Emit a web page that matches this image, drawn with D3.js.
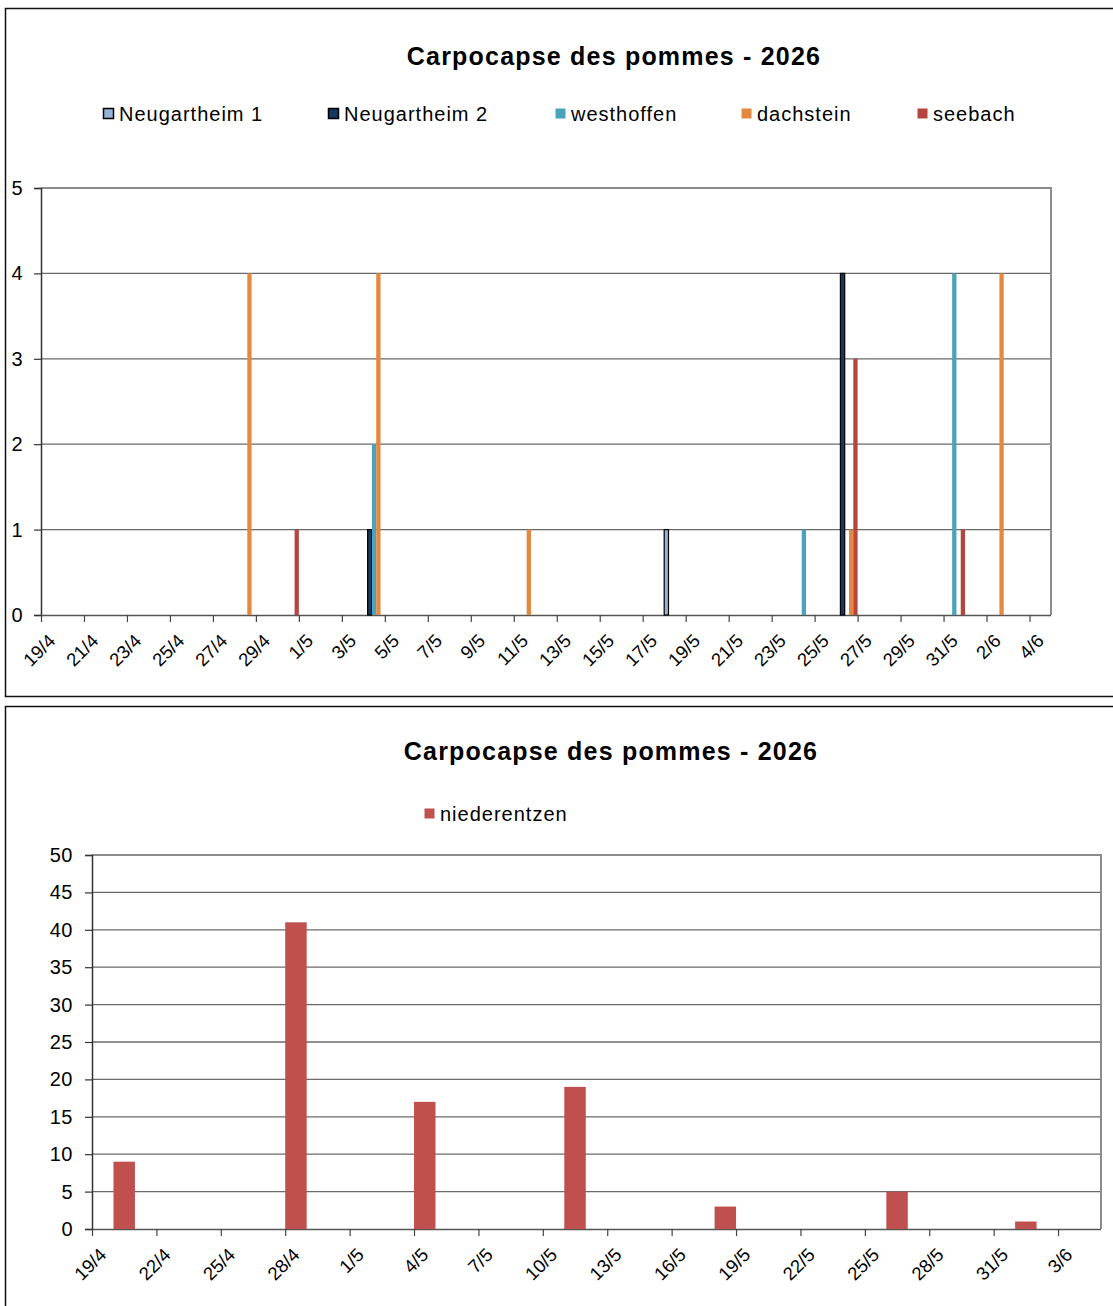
<!DOCTYPE html>
<html>
<head>
<meta charset="utf-8">
<script src="https://cdn.jsdelivr.net/npm/d3@7"></script>
<style>
  html, body { margin: 0; padding: 0; background: #fff; }
  svg { display: block; }
  text { font-family: "Liberation Sans", Arial, sans-serif; fill: #000; }
</style>
</head>
<body>
<div id="chart"></div>
<script>
// ---- Data: codling moth trap counts, 2026 ----
const chartTitle = "Carpocapse des pommes  - 2026";

// Upper chart: five trap sites, counts per trap reading date
const trapDates    = ["28/4", "30/4", "4/5", "11/5", "18/5", "24/5", "26/5", "31/5", "2/6"];
const neugartheim1 = [0, 0, 0, 0, 1, 0, 0, 0, 0];
const neugartheim2 = [0, 0, 1, 0, 0, 0, 4, 0, 0];
const westhoffen   = [0, 0, 2, 0, 0, 1, 0, 4, 0];
const dachstein    = [4, 0, 4, 1, 0, 0, 1, 0, 4];
const seebach      = [0, 1, 0, 0, 0, 0, 3, 1, 0];
const siteNames    = ["Neugartheim 1", "Neugartheim 2", "westhoffen", "dachstein", "seebach"];
const topYTicks    = [0, 1, 2, 3, 4, 5];
const topXTicks    = ["19/4", "21/4", "23/4", "25/4", "27/4", "29/4", "1/5", "3/5", "5/5", "7/5",
                      "9/5", "11/5", "13/5", "15/5", "17/5", "19/5", "21/5", "23/5", "25/5", "27/5",
                      "29/5", "31/5", "2/6", "4/6"];

// Lower chart: niederentzen
const niederDates  = ["20/4", "28/4", "4/5", "11/5", "18/5", "26/5", "1/6"];
const niederentzen = [9, 41, 17, 19, 3, 5, 1];
const bottomYTicks = [0, 5, 10, 15, 20, 25, 30, 35, 40, 45, 50];
const bottomXTicks = ["19/4", "22/4", "25/4", "28/4", "1/5", "4/5", "7/5", "10/5", "13/5", "16/5",
                      "19/5", "22/5", "25/5", "28/5", "31/5", "3/6"];

// ---- Styling ----
const siteFill   = ["#95b3d7", "#17375e", "#4aa3ba", "#e4883f", "#b4463f"];
const siteStroke = ["#000", "#000", null, null, null];
const niederFill = "#c0504d";
const gridColor  = "#6a6a6a";
const frameGray  = "#8c8c8c";
const font = "'Liberation Sans', Arial, sans-serif";

const parseDay = s => { const [d, m] = s.split("/").map(Number); return new Date(Date.UTC(2026, m - 1, d)); };

const svg = d3.select("#chart").append("svg").attr("width", 1113).attr("height", 1306);

// outer frames of the two chart boxes
svg.append("rect").attr("x", 5.5).attr("y", 8.5).attr("width", 1200).attr("height", 688)
  .attr("fill", "none").attr("stroke", "#111").attr("stroke-width", 1.5);
svg.append("rect").attr("x", 5.5).attr("y", 706.5).attr("width", 1200).attr("height", 700)
  .attr("fill", "none").attr("stroke", "#111").attr("stroke-width", 1.5);

function title(y, cx) {
  svg.append("text").attr("x", cx).attr("y", y).attr("text-anchor", "middle")
    .style("font-size", "25px").style("font-weight", "bold").style("letter-spacing", "1.2px")
    .text(chartTitle);
}

function legendItem(x, y, label, fill, stroke) {
  svg.append("rect").attr("x", x + 0.5).attr("y", y + 0.5).attr("width", 10).attr("height", 10)
    .attr("fill", fill).attr("stroke", stroke || "none").attr("stroke-width", stroke ? 1.5 : 0);
  svg.append("text").attr("x", x + 16).attr("y", y + 13)
    .style("font-size", "20px").style("letter-spacing", "1px").text(label);
}

// draws the frame, grid and axes of one panel and returns its scales
function panel(cfg) {
  const { left, right, top, bottom, yMax, yTicks, xTicks, xEnd } = cfg;
  const x = d3.scaleUtc().domain([parseDay(xTicks[0]), xEnd]).range([left, right]);
  const y = d3.scaleLinear().domain([0, yMax]).range([bottom, top]);
  const g = svg.append("g");

  // horizontal gridlines
  g.selectAll("line.grid").data(yTicks.filter(v => v > 0 && v < yMax)).join("line")
    .attr("x1", left).attr("x2", right).attr("y1", d => y(d)).attr("y2", d => y(d))
    .attr("stroke", gridColor).attr("stroke-width", 1.3);
  // top and right border
  g.append("path").attr("d", `M${left},${y(yMax)}H${right}V${bottom}`)
    .attr("fill", "none").attr("stroke", frameGray).attr("stroke-width", 2);

  // y axis
  const ya = g.append("g").attr("transform", `translate(${left},0)`)
    .call(d3.axisLeft(y).tickValues(yTicks).tickSize(7).tickPadding(cfg.yPad).tickFormat(d3.format("d")));
  ya.select(".domain").attr("stroke", "#333").attr("stroke-width", 1.5);
  ya.selectAll(".tick line").attr("stroke", "#333").attr("stroke-width", 1.2);
  ya.selectAll("text").style("font-family", font).style("font-size", "20px")
    .style("letter-spacing", "0.5px").attr("fill", "#000");

  // x axis with slanted date labels
  const tickDates = xTicks.map(parseDay);
  const xa = g.append("g").attr("transform", `translate(0,${bottom})`)
    .call(d3.axisBottom(x).tickValues(tickDates).tickSize(7)
      .tickFormat((d, i) => xTicks[i]));
  xa.select(".domain").attr("stroke", "#555").attr("stroke-width", 1.5)
    .attr("d", `M${left},0.5H${right}`);
  xa.selectAll(".tick line").attr("stroke", "#444").attr("stroke-width", 1.2);
  xa.selectAll("text").style("font-family", font).style("font-size", "18.5px").attr("fill", "#000")
    .attr("x", 0).attr("y", 0).attr("dy", null)
    .attr("text-anchor", "end").attr("transform", "translate(15,27) rotate(-45)");

  return { x, y, g };
}

// ---------- upper chart ----------
title(65, 614);
const legendX = [103, 328, 555, 741, 917];
siteNames.forEach((n, i) => legendItem(legendX[i], 108, n, siteFill[i], siteStroke[i]));

const topEnd = d3.utcDay.offset(parseDay(topXTicks[topXTicks.length - 1]), 1);
const P1 = panel({ left: 41, right: 1051, top: 188, bottom: 615, yMax: 5, yTicks: topYTicks,
                   xTicks: topXTicks, xEnd: topEnd, yPad: 11 });

const siteSeries = [neugartheim1, neugartheim2, westhoffen, dachstein, seebach];
const dayWidth = P1.x(d3.utcDay.offset(parseDay("19/4"), 1)) - P1.x(parseDay("19/4"));
const inDay = d3.scaleBand().domain(siteNames).range([0, dayWidth]).padding(0);
const topBars = [];
siteSeries.forEach((vals, si) => vals.forEach((v, di) => {
  if (v > 0) topBars.push({ site: siteNames[si], si, date: parseDay(trapDates[di]), v });
}));
P1.g.append("g").selectAll("rect").data(topBars).join("rect")
  .attr("x", d => P1.x(d.date) + inDay(d.site))
  .attr("width", inDay.bandwidth())
  .attr("y", d => P1.y(d.v))
  .attr("height", d => P1.y(0) - P1.y(d.v))
  .attr("fill", d => siteFill[d.si])
  .attr("stroke", d => siteStroke[d.si] || "none")
  .attr("stroke-width", d => siteStroke[d.si] ? 1.2 : 0);

// ---------- lower chart ----------
title(760, 611);
legendItem(424, 808, "niederentzen", niederFill, null);

const botEnd = d3.utcDay.offset(parseDay(bottomXTicks[bottomXTicks.length - 1]), 2);
const P2 = panel({ left: 92, right: 1101, top: 855, bottom: 1229, yMax: 50, yTicks: bottomYTicks,
                   xTicks: bottomXTicks, xEnd: botEnd, yPad: 12 });

P2.g.append("g").selectAll("rect").data(niederDates.map((d, i) => ({ date: parseDay(d), v: niederentzen[i] })))
  .join("rect")
  .attr("x", d => P2.x(d.date))
  .attr("width", d => P2.x(d3.utcDay.offset(d.date, 1)) - P2.x(d.date))
  .attr("y", d => P2.y(d.v))
  .attr("height", d => P2.y(0) - P2.y(d.v))
  .attr("fill", niederFill);
</script>
</body>
</html>
